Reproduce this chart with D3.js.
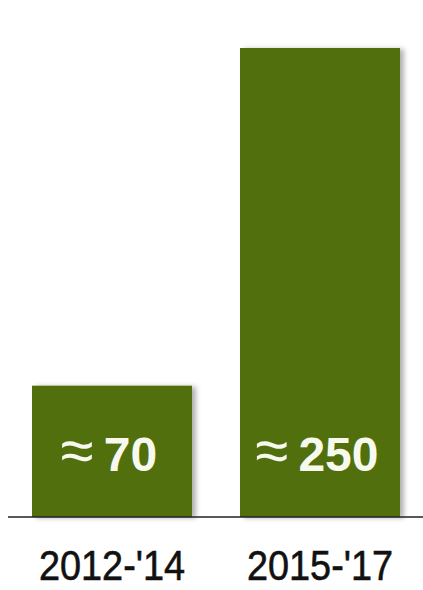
<!DOCTYPE html>
<html>
<head>
<meta charset="utf-8">
<script src="https://cdn.jsdelivr.net/npm/d3@7"></script>
<style>
  html, body { margin: 0; padding: 0; background: #fff; }
  svg { display: block; }
</style>
</head>
<body>
<script>
let periods = ["2012-'14", "2015-'17"];
let values = [70, 250];
let valuePrefix = "\u2248";

let w = 423;
let h = 590;

let xScale = d3.scaleBand()
  .domain(periods)
  .range([32, 400])
  .paddingInner(48 / 208)
  .paddingOuter(0);

let yScale = d3.scaleLinear()
  .domain([0, 250])
  .range([517, 48]);

let svg = d3.select("body")
  .append("svg")
  .attr("width", w)
  .attr("height", h);

// soft shadow on the right side of each bar
let filter = svg.append("defs")
  .append("filter")
  .attr("id", "shadow")
  .attr("x", "-10%")
  .attr("y", "-10%")
  .attr("width", "130%")
  .attr("height", "130%");
filter.append("feDropShadow")
  .attr("dx", 4)
  .attr("dy", 1)
  .attr("stdDeviation", 2.5)
  .attr("flood-color", "#000")
  .attr("flood-opacity", 0.3);

let data = periods.map((p, i) => ({period: p, value: values[i]}));

svg.selectAll("rect.bar")
  .data(data)
  .enter()
  .append("rect")
  .attr("class", "bar")
  .attr("x", d => xScale(d.period))
  .attr("y", d => yScale(d.value))
  .attr("width", xScale.bandwidth())
  .attr("height", d => yScale(0) - yScale(d.value))
  .attr("fill", "#517011")
  .attr("filter", "url(#shadow)");

// value labels inside bars
let labels = svg.selectAll("text.value")
  .data(data)
  .enter()
  .append("text")
  .attr("class", "value")
  .attr("x", d => xScale(d.period) + xScale.bandwidth() / 2 - 3)
  .attr("y", yScale(0) - 46)
  .attr("text-anchor", "middle")
  .attr("fill", "#f7f9ee")
  .style("font-family", "'Liberation Sans', Arial, sans-serif");
labels.append("tspan")
  .style("font-size", "60px")
  .text(valuePrefix);
labels.append("tspan")
  .style("font-size", "48px")
  .attr("dx", 10)
  .style("font-weight", "bold")
  .text(d => d.value);

// baseline
svg.append("line")
  .attr("x1", 8)
  .attr("x2", w)
  .attr("y1", yScale(0))
  .attr("y2", yScale(0))
  .attr("stroke", "#222")
  .attr("stroke-width", 1.5);

// x axis labels
let xAxis = d3.axisBottom(xScale).tickSize(0).tickPadding(0);
let gx = svg.append("g")
  .attr("id", "x-axis")
  .attr("transform", "translate(0," + 580 + ")")
  .call(xAxis);
gx.select(".domain").remove();
gx.selectAll("text")
  .attr("dy", 0)
  .attr("y", 0)
  .attr("transform", "scale(0.88,1)")
  .attr("fill", "#111")
  .attr("stroke", "#111")
  .attr("stroke-width", 0.6)
  .style("font-family", "'Liberation Sans', Arial, sans-serif")
  .style("font-size", "43px");
</script>
</body>
</html>
